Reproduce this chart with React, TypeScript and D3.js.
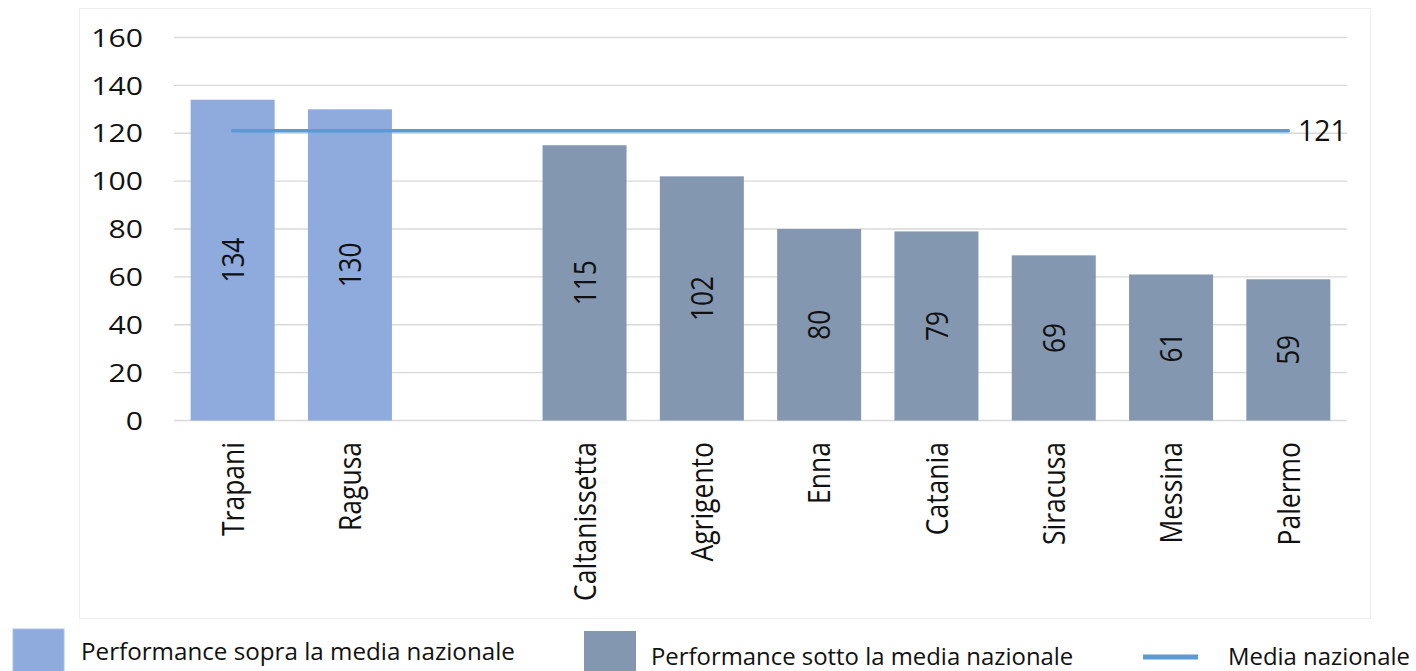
import React from "react";
import * as d3 from "d3";

const categories = ["Trapani", "Ragusa", "", "Caltanissetta", "Agrigento", "Enna", "Catania", "Siracusa", "Messina", "Palermo"];
const sopraValues: (number | null)[] = [134, 130, null, null, null, null, null, null, null, null];
const sottoValues: (number | null)[] = [null, null, null, 115, 102, 80, 79, 69, 61, 59];
const mediaNazionale = 121;
const yTicks = [0, 20, 40, 60, 80, 100, 120, 140, 160];
const legendLabels = ["Performance sopra la media nazionale", "Performance sotto la media nazionale", "Media nazionale"];

const W = 1416;
const H = 671;
const FONT = "'Open Sans', 'Noto Sans', sans-serif";
const SX = 1.18;
const C_SOPRA = "#8FAADC";
const C_SOTTO = "#8497B0";
const C_LINE = "#5B9BD5";
const TXT = "#111";

export default function App() {
  const keys = categories.map((c, i) => `${i}-${c}`);
  const x = d3.scaleBand<string>().domain(keys).range([174, 1347]).paddingInner(0.284).paddingOuter(0.142);
  const y = d3.scaleLinear().domain([0, 160]).range([420.5, 37.5]);
  const bw = x.bandwidth();
  const cx = (i: number) => (x(keys[i]) as number) + bw / 2;

  const bars: { i: number; v: number; color: string }[] = [];
  sopraValues.forEach((v, i) => { if (v != null) bars.push({ i, v, color: C_SOPRA }); });
  sottoValues.forEach((v, i) => { if (v != null) bars.push({ i, v, color: C_SOTTO }); });

  const line = d3.line<number>().x((d) => d).y(() => y(mediaNazionale));
  const lineX = [cx(0), cx(categories.length - 1)];

  return (
    <svg width={W} height={H} style={{ position: "absolute", left: 0, top: 0, background: "#fff" }} fontFamily={FONT}>
      <rect x={0} y={0} width={W} height={H} fill="#fff" />
      <rect x={79.5} y={8.5} width={1291} height={610} fill="none" stroke="#EEEEEE" strokeWidth={1} />
      {yTicks.map((t) => (
        <line key={`g${t}`} x1={174} x2={1347} y1={y(t)} y2={y(t)} stroke="#D9D9D9" strokeWidth={1.3} />
      ))}
      {yTicks.map((t) => (
        <text key={`t${t}`} transform={`translate(143,${y(t)}) scale(${SX},1)`} textAnchor="end" dy="0.36em" fontSize={25.6} fill={TXT}>
          {t}
        </text>
      ))}
      {bars.map((b) => (
        <rect key={`b${b.i}`} x={x(keys[b.i])} y={y(b.v)} width={bw} height={y(0) - y(b.v)} fill={b.color} />
      ))}
      {bars.map((b) => (
        <text
          key={`l${b.i}`}
          transform={`translate(${cx(b.i)},${(y(b.v) + y(0)) / 2}) scale(${SX},1) rotate(-90)`}
          textAnchor="middle"
          dy="0.36em"
          fontSize={26.2}
          fill={TXT}
        >
          {b.v}
        </text>
      ))}
      <path d={line(lineX) || ""} stroke={C_LINE} strokeWidth={3.5} fill="none" strokeLinecap="round" />
      <text x={1298} y={y(mediaNazionale)} dy="0.36em" fontSize={28.5} fill={TXT}>
        {mediaNazionale}
      </text>
      {categories.map((c, i) =>
        c ? (
          <text
            key={`c${i}`}
            transform={`translate(${cx(i)},442) scale(${SX},1) rotate(-90)`}
            textAnchor="end"
            dy="0.36em"
            fontSize={26.5}
            fill={TXT}
          >
            {c}
          </text>
        ) : null
      )}
      <rect x={13} y={629} width={51} height={50} fill={C_SOPRA} stroke="#A9BFE6" strokeWidth={1} />
      <text x={81} y={660} fontSize={24.2} fill={TXT}>{legendLabels[0]}</text>
      <rect x={584} y={631} width={52} height={45} fill={C_SOTTO} />
      <text x={651} y={664.5} fontSize={23.9} fill={TXT}>{legendLabels[1]}</text>
      <line x1={1143} x2={1198} y1={657} y2={657} stroke={C_LINE} strokeWidth={5} />
      <text x={1228} y={664.5} fontSize={23.9} fill={TXT}>{legendLabels[2]}</text>
    </svg>
  );
}
